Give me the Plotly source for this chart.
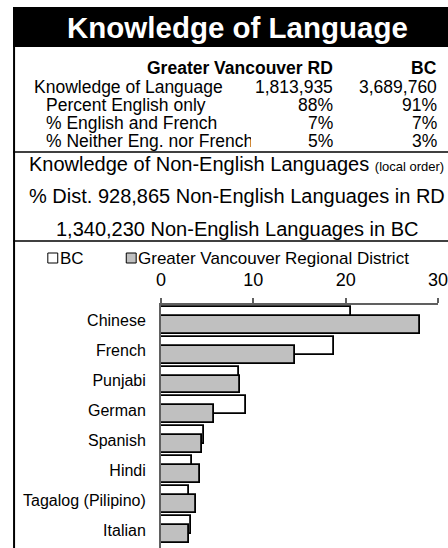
import plotly.graph_objects as go

# ---------------- data ----------------
categories = ["Chinese", "French", "Punjabi", "German", "Spanish", "Hindi",
              "Tagalog (Pilipino)", "Italian"]
bc_pct = [20.6, 18.7, 8.4, 9.2, 4.7, 3.4, 3.0, 3.2]
gvrd_pct = [28.1, 14.5, 8.6, 5.7, 4.4, 4.2, 3.8, 3.0]

title_text = "Knowledge of Language"
col_headers = ["Greater Vancouver RD", "BC"]
row_labels = ["Knowledge of Language", "Percent English only",
              "% English and French", "% Neither Eng. nor French"]
gvrd_vals = ["1,813,935", "88%", "7%", "5%"]
bc_vals = ["3,689,760", "91%", "7%", "3%"]
section_lines = [
    "Knowledge of Non-English Languages <span style='font-size:13px'>(local order)</span>",
    "% Dist. 928,865 Non-English Languages in RD",
    "1,340,230 Non-English Languages in BC",
]
legend_names = ["BC", "Greater Vancouver Regional District"]
x_ticks = [0, 10, 20, 30]

# ---------------- layout geometry (pixels) ----------------
W, H = 448, 548
L, R, T, B = 161, 440, 305, 548
FONT = "Liberation Sans, Arial, sans-serif"


def xp(px):
    return (px - L) / (R - L)


def yp(py):
    return (B - py) / (B - T)


fig = go.Figure()
fig.add_trace(go.Bar(
    y=categories, x=bc_pct, orientation="h", name=legend_names[0],
    marker=dict(color="white", line=dict(color="black", width=1.8)),
    width=0.6, offset=-0.47, showlegend=False,
))
fig.add_trace(go.Bar(
    y=categories, x=gvrd_pct, orientation="h", name=legend_names[1],
    marker=dict(color="#C0C0C0", line=dict(color="black", width=1.8)),
    width=0.6, offset=-0.17, showlegend=False,
))

shapes = []
annotations = []

# title bar
shapes.append(dict(type="rect", xref="paper", yref="paper",
                   x0=xp(12), x1=xp(460), y0=yp(47), y1=yp(7),
                   fillcolor="black", line=dict(width=0), layer="above"))
annotations.append(dict(text="<b>%s</b>" % title_text, xref="paper", yref="paper",
                        x=xp(238), y=yp(27), xanchor="center", yanchor="middle",
                        showarrow=False, font=dict(family=FONT, size=29.5, color="white")))

# frame lines
shapes.append(dict(type="line", xref="paper", yref="paper",
                   x0=xp(13), x1=xp(13), y0=yp(7), y1=yp(560),
                   line=dict(color="black", width=2), layer="above"))
for ly in (152, 241):
    shapes.append(dict(type="line", xref="paper", yref="paper",
                       x0=xp(12), x1=xp(460), y0=yp(ly), y1=yp(ly),
                       line=dict(color="black", width=1.5), layer="above"))

# table
tf = dict(family=FONT, size=17.5, color="black")
annotations.append(dict(text="<b>%s</b>" % col_headers[0], xref="paper", yref="paper",
                        x=xp(336), y=yp(68), xanchor="right", yanchor="middle",
                        showarrow=False, font=tf))
annotations.append(dict(text="<b>%s</b>" % col_headers[1], xref="paper", yref="paper",
                        x=xp(441), y=yp(68), xanchor="right", yanchor="middle",
                        showarrow=False, font=tf))
row_y = [87, 105, 123, 141]
for i, (lab, gv, bc) in enumerate(zip(row_labels, gvrd_vals, bc_vals)):
    lx = 31 if i == 0 else 43
    ann = dict(text=lab, xref="paper", yref="paper", x=xp(lx), y=yp(row_y[i]),
               xanchor="left", yanchor="middle", showarrow=False, font=tf, align="left")
    if i == 3:
        ann["width"] = 248 - lx
    annotations.append(ann)
    annotations.append(dict(text=gv, xref="paper", yref="paper", x=xp(336), y=yp(row_y[i]),
                            xanchor="right", yanchor="middle", showarrow=False, font=tf))
    annotations.append(dict(text=bc, xref="paper", yref="paper", x=xp(441), y=yp(row_y[i]),
                            xanchor="right", yanchor="middle", showarrow=False, font=tf))

# section header lines
for txt, sy in zip(section_lines, [164, 196, 229]):
    annotations.append(dict(text=txt, xref="paper", yref="paper", x=xp(237.5), y=yp(sy),
                            xanchor="center", yanchor="middle", showarrow=False,
                            font=dict(family=FONT, size=20, color="black")))

# legend
lf = dict(family=FONT, size=17, color="black")
for (sx, fill, name) in [(47, "white", legend_names[0]), (126, "#C0C0C0", legend_names[1])]:
    shapes.append(dict(type="rect", xref="paper", yref="paper",
                       x0=xp(sx), x1=xp(sx + 10), y0=yp(263), y1=yp(253),
                       fillcolor=fill, line=dict(color="black", width=1), layer="above"))
    annotations.append(dict(text=name, xref="paper", yref="paper", x=xp(sx + 10), y=yp(258),
                            xanchor="left", yanchor="middle", showarrow=False, font=lf))

fig.update_layout(
    width=W, height=H,
    margin=dict(l=L, r=W - R, t=T, b=H - B, pad=0),
    paper_bgcolor="white", plot_bgcolor="white",
    barmode="overlay", bargap=0,
    font=dict(family=FONT, color="black"),
    shapes=shapes, annotations=annotations,
    xaxis=dict(range=[0, 30], side="top", tickvals=x_ticks, ticks="outside",
               ticklen=5, tickwidth=1.5, tickcolor="#606060", showline=True,
               linecolor="#606060", linewidth=2, showgrid=False, zeroline=False,
               tickfont=dict(family=FONT, size=18, color="black"),
               ticklabelstandoff=5, ticklabeloverflow="allow"),
    yaxis=dict(range=[7.6, -0.53], showline=True, linecolor="#606060", linewidth=2,
               ticks="", showgrid=False, zeroline=False,
               tickfont=dict(family=FONT, size=16, color="black"),
               ticklabelstandoff=10),
)

fig.write_html("out.html", config={"displayModeBar": False},
               post_script="document.body.style.margin='0';document.body.style.overflow='hidden';")
